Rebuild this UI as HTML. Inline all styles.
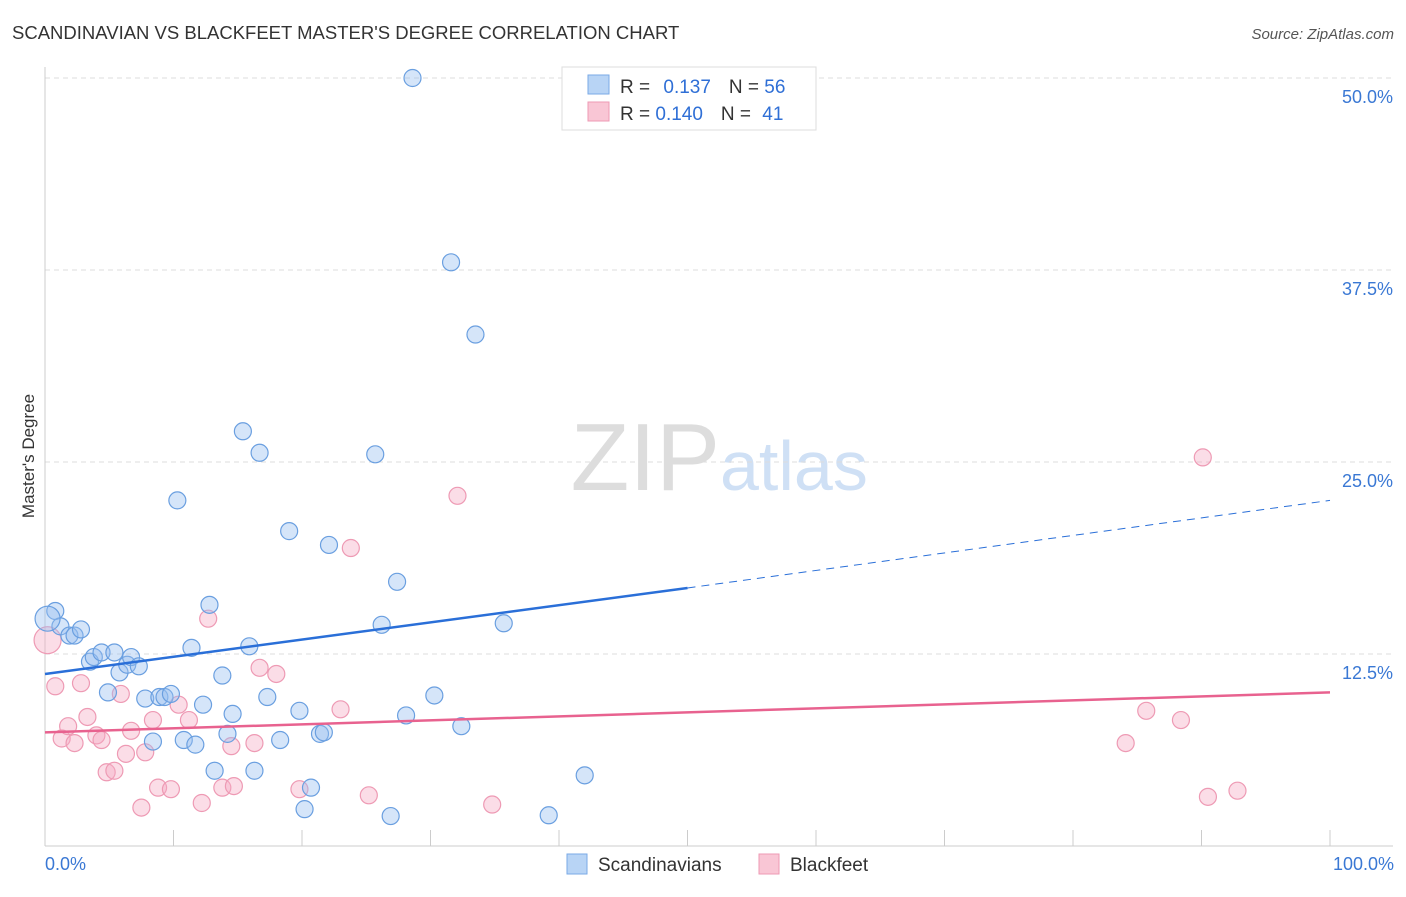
<!DOCTYPE html>
<html><head><meta charset="utf-8"><style>
body{margin:0;background:#fff;font-family:"Liberation Sans",sans-serif;}
svg text{font-family:"Liberation Sans",sans-serif;}
</style></head><body>
<svg id="c" width="1406" height="892" xmlns="http://www.w3.org/2000/svg">
<text x="12" y="39" font-size="18.5" fill="#333">SCANDINAVIAN VS BLACKFEET MASTER'S DEGREE CORRELATION CHART</text>
<text x="1394" y="39" font-size="15" fill="#555" text-anchor="end" font-style="italic">Source: ZipAtlas.com</text>
<text x="34" y="456" font-size="17" fill="#333" text-anchor="middle" transform="rotate(-90 34 456)">Master's Degree</text>
<text x="720" y="490" font-size="96" fill="#ddd" text-anchor="end" font-family="Liberation Serif">ZIP</text>
<text x="720" y="490" font-size="70" fill="#cfe0f5">atlas</text>
<g id="grid"></g><g id="pts"></g><g id="lines"></g>
<g>
<rect x="562" y="67" width="254" height="63" fill="#fff" stroke="#ddd"/>
<rect x="588" y="75" width="21" height="19" fill="#b8d4f5" stroke="#7aaae6"/>
<rect x="588" y="102" width="21" height="19" fill="#f9c6d5" stroke="#ee9ab4"/>
<text x="620" y="93" font-size="19" fill="#333">R = <tspan fill="#2f6fd6" dx="8">0.137</tspan><tspan dx="18" fill="#333">N = </tspan><tspan fill="#2f6fd6">56</tspan></text>
<text x="620" y="120" font-size="19" fill="#333">R = <tspan fill="#2f6fd6">0.140</tspan><tspan dx="18" fill="#333">N = </tspan><tspan fill="#2f6fd6" dx="6">41</tspan></text>
</g>
<g>
<rect x="567" y="854" width="20" height="20" fill="#b8d4f5" stroke="#7aaae6"/>
<text x="598" y="871" font-size="19" fill="#333">Scandinavians</text>
<rect x="759" y="854" width="20" height="20" fill="#f9c6d5" stroke="#ee9ab4"/>
<text x="790" y="871" font-size="19" fill="#333">Blackfeet</text>
</g>
<text x="45" y="870" font-size="18" fill="#3a78d4">0.0%</text>
<text x="1394" y="870" font-size="18" fill="#3a78d4" text-anchor="end">100.0%</text>
</svg>
<script>
const yTicks=[12.5,25,37.5,50];
const yTickLabels=["12.5%","25.0%","37.5%","50.0%"];
const xTicks=[0,10,20,30,40,50,60,70,80,90,100];
const blueX=[0.8,1.2,1.9,2.3,2.8,3.5,3.8,4.4,4.9,5.4,5.8,6.4,6.7,7.3,7.8,8.4,8.9,9.3,9.8,10.3,10.8,11.4,11.7,12.3,12.8,13.2,13.8,14.2,14.6,15.4,15.9,16.3,16.7,17.3,18.3,19.0,19.8,20.2,20.7,21.4,21.7,22.1,25.7,26.2,27.4,26.9,28.1,28.6,30.3,31.6,32.4,33.5,35.7,39.2,42.0,0.2];
const blueY=[15.3,14.3,13.7,13.7,14.1,12.0,12.3,12.6,10.0,12.6,11.3,11.8,12.3,11.7,9.6,6.8,9.7,9.7,9.9,22.5,6.9,12.9,6.6,9.2,15.7,4.9,11.1,7.3,8.6,27.0,13.0,4.9,25.6,9.7,6.9,20.5,8.8,2.4,3.8,7.3,7.4,19.6,25.5,14.4,17.2,1.95,8.5,50.0,9.8,38.0,7.8,33.3,14.5,2.0,4.6,14.8];
const pinkX=[0.2,0.8,1.3,1.8,2.3,2.8,3.3,4.0,4.4,4.8,5.4,5.9,6.7,6.3,7.5,7.8,8.4,8.8,9.8,10.4,11.2,12.2,12.7,13.8,14.5,14.7,16.3,16.7,18.0,19.8,23.0,23.8,25.2,32.1,34.8,84.1,85.7,88.4,90.1,90.5,92.8];
const pinkY=[13.4,10.4,7.0,7.8,6.7,10.6,8.4,7.2,6.9,4.8,4.9,9.9,7.5,6.0,2.5,6.1,8.2,3.8,3.7,9.2,8.2,2.8,14.8,3.8,6.5,3.9,6.7,11.6,11.2,3.7,8.9,19.4,3.3,22.8,2.7,6.7,8.8,8.2,25.3,3.2,3.6];
const blueTrend=[11.2,16.8,22.5];
const pinkTrend=[7.4,10.0];
const X0=45,X1=1330,Y0=846,PXY=15.36;
const xs=v=>X0+(X1-X0)*v/100, ys=v=>Y0-v*PXY;
const NS="http://www.w3.org/2000/svg";
function mk(t,a,p){const e=document.createElementNS(NS,t);for(const k in a)e.setAttribute(k,a[k]);p.appendChild(e);return e;}
const grid=document.getElementById('grid');
yTicks.forEach((v,i)=>{
 const l=mk('line',{x1:45,x2:1393,y1:ys(v),y2:ys(v),stroke:'#ddd','stroke-dasharray':'5,4'},grid);
 
 
 const t=mk('text',{x:1393,y:ys(v)+25,'font-size':18,fill:'#3a78d4','text-anchor':'end'},grid);
 t.textContent=yTickLabels[i];
 
 
});
const ax=mk('line',{x1:45,x2:45,y1:67,y2:846,stroke:'#ccc'},grid);


const bx=mk('line',{x1:45,x2:1393,y1:846,y2:846,stroke:'#ccc'},grid);


xTicks.forEach(v=>{
 const t=mk('line',{x1:xs(v),x2:xs(v),y1:830,y2:846,stroke:'#ccc'},grid);
 
 
});
const pts=document.getElementById('pts');
pinkX.forEach((v,i)=>{
 const c=mk('circle',{cx:xs(v),cy:ys(pinkY[i]),r:i==0?13.5:8.5,fill:'rgba(246,170,195,0.4)',stroke:'#ee9ab4','stroke-width':1.2},pts);
 
 
});
blueX.forEach((v,i)=>{
 const c=mk('circle',{cx:xs(v),cy:ys(blueY[i]),r:i==55?12.5:8.5,fill:'rgba(150,190,240,0.4)',stroke:'#6a9fe0','stroke-width':1.2},pts);
 
 
});
const lines=document.getElementById('lines');
const b1=mk('line',{x1:xs(0),y1:ys(blueTrend[0]),x2:xs(50),y2:ys(blueTrend[1]),stroke:'#2a6fd8','stroke-width':2.5},lines);


const b2=mk('line',{x1:xs(50),y1:ys(blueTrend[1]),x2:xs(100),y2:ys(blueTrend[2]),stroke:'#2a6fd8','stroke-width':1,'stroke-dasharray':'8,6'},lines);


const p1=mk('line',{x1:xs(0),y1:ys(pinkTrend[0]),x2:xs(100),y2:ys(pinkTrend[1]),stroke:'#e8628f','stroke-width':2.5},lines);


</script>
</body></html>
